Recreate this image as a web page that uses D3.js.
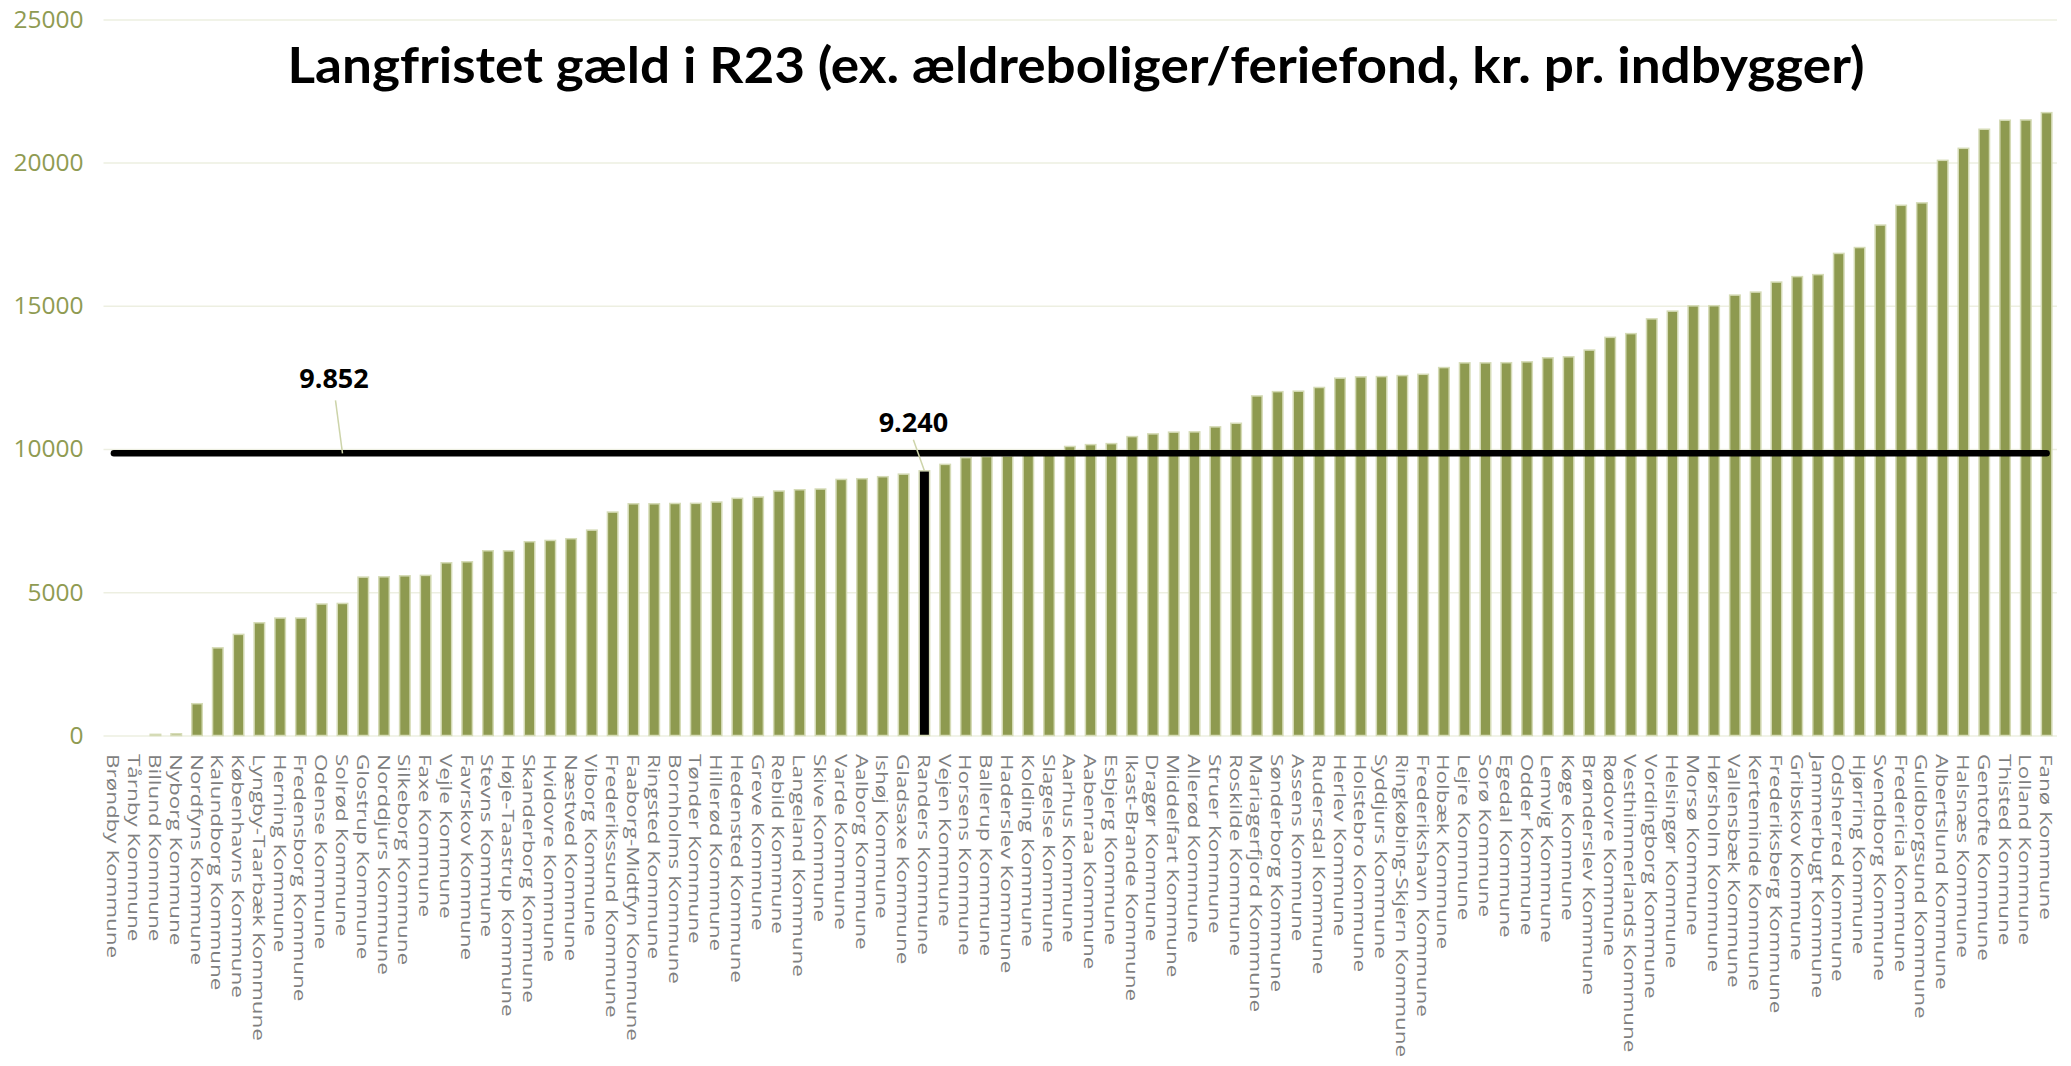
<!DOCTYPE html>
<html><head><meta charset="utf-8">
<script src="https://cdn.jsdelivr.net/npm/d3@7"></script>
<style>body{margin:0;background:#fff} svg{display:block}</style>
</head><body><svg id="c" width="2071" height="1066"></svg>
<script>
const categories = ["Brøndby Kommune","Tårnby Kommune","Billund Kommune","Nyborg Kommune","Nordfyns Kommune","Kalundborg Kommune","Københavns Kommune","Lyngby-Taarbæk Kommune","Herning Kommune","Fredensborg Kommune","Odense Kommune","Solrød Kommune","Glostrup Kommune","Norddjurs Kommune","Silkeborg Kommune","Faxe Kommune","Vejle Kommune","Favrskov Kommune","Stevns Kommune","Høje-Taastrup Kommune","Skanderborg Kommune","Hvidovre Kommune","Næstved Kommune","Viborg Kommune","Frederikssund Kommune","Faaborg-Midtfyn Kommune","Ringsted Kommune","Bornholms Kommune","Tønder Kommune","Hillerød Kommune","Hedensted Kommune","Greve Kommune","Rebild Kommune","Langeland Kommune","Skive Kommune","Varde Kommune","Aalborg Kommune","Ishøj Kommune","Gladsaxe Kommune","Randers Kommune","Vejen Kommune","Horsens Kommune","Ballerup Kommune","Haderslev Kommune","Kolding Kommune","Slagelse Kommune","Aarhus Kommune","Aabenraa Kommune","Esbjerg Kommune","Ikast-Brande Kommune","Dragør Kommune","Middelfart Kommune","Allerød Kommune","Struer Kommune","Roskilde Kommune","Mariagerfjord Kommune","Sønderborg Kommune","Assens Kommune","Rudersdal Kommune","Herlev Kommune","Holstebro Kommune","Syddjurs Kommune","Ringkøbing-Skjern Kommune","Frederikshavn Kommune","Holbæk Kommune","Lejre Kommune","Sorø Kommune","Egedal Kommune","Odder Kommune","Lemvig Kommune","Køge Kommune","Brønderslev Kommune","Rødovre Kommune","Vesthimmerlands Kommune","Vordingborg Kommune","Helsingør Kommune","Morsø Kommune","Hørsholm Kommune","Vallensbæk Kommune","Kerteminde Kommune","Frederiksberg Kommune","Gribskov Kommune","Jammerbugt Kommune","Odsherred Kommune","Hjørring Kommune","Svendborg Kommune","Fredericia Kommune","Guldborgsund Kommune","Albertslund Kommune","Halsnæs Kommune","Gentofte Kommune","Thisted Kommune","Lolland Kommune","Fanø Kommune"];
const values = [0,0,40,60,1110,3060,3530,3935,4100,4100,4590,4610,5530,5540,5575,5590,6030,6065,6450,6445,6765,6810,6870,7170,7800,8090,8090,8100,8105,8150,8280,8325,8535,8580,8605,8940,8965,9035,9125,9240,9465,9700,9740,9760,9790,9830,10090,10155,10190,10435,10530,10590,10600,10775,10900,11855,12005,12020,12150,12475,12520,12530,12565,12610,12845,13010,13010,13015,13045,13185,13220,13455,13900,14030,14545,14815,15000,15005,15375,15480,15830,16020,16090,16830,17035,17820,18510,18595,20080,20500,21165,21480,21490,21745];
const yTicks = [0,5000,10000,15000,20000,25000];
const meanValue = 9852;
const meanLabel = "9.852";
const meanLabelCategory = "Solrød Kommune";
const highlightCategory = "Randers Kommune";
const highlightLabel = "9.240";
const titleText = "Langfristet gæld i R23 (ex. ældreboliger/feriefond, kr. pr. indbygger)";

(function(){
const data = categories.map((c,i)=>({c, v: values[i]}));
const svg = d3.select("#c");
const pLeft = 103.5, pRight = 2057, pBottom = 735.5, pTop = 19.4;
const x = d3.scaleBand().domain(categories).range([pLeft,pRight]).paddingInner(0.495).paddingOuter(0.2475);
const y = d3.scaleLinear().domain([0,25000]).range([pBottom,pTop]);
const bw = x.bandwidth();
const cx = c => x(c) + bw/2;

const olive = "#8E9A50", pale = "#D5DBB6";

// grid + y axis
const ya = svg.append("g").attr("transform",`translate(${pLeft},0)`)
  .call(d3.axisLeft(y).tickValues(yTicks).tickSize(-(pRight-pLeft)).tickPadding(20).tickFormat(d3.format("d")));
ya.select(".domain").remove();
ya.selectAll(".tick line").attr("stroke","#EDEFE1").attr("stroke-width",1.5);
ya.selectAll(".tick text").attr("fill","#8F9B52").style("font-family","'Open Sans'").style("font-size","24.5px");

// bars
svg.append("g").selectAll("rect").data(data).join("rect")
  .attr("x",d=>x(d.c)).attr("width",bw)
  .attr("y",d=>y(d.v)).attr("height",d=>y(0)-y(d.v))
  .attr("fill",d=>d.c===highlightCategory?"#000":olive)
  .attr("stroke",pale).attr("stroke-width",1.5);

// mean line
svg.append("path").datum(categories)
  .attr("d", d3.line().x(c=>cx(c)).y(()=>y(meanValue)))
  .attr("fill","none").attr("stroke","#000").attr("stroke-width",6.5).attr("stroke-linecap","round");

// mean label + leader
const mx = cx(meanLabelCategory), my = y(meanValue);
svg.append("line").attr("x1",mx-7).attr("y1",my-53).attr("x2",mx).attr("y2",my)
  .attr("stroke","#CDD4AA").attr("stroke-width",1.5);
svg.append("text").attr("x",mx-8.5).attr("y",my-65).attr("text-anchor","middle")
  .style("font-family","'Open Sans'").style("font-weight","bold").style("font-size","27px").attr("fill","#000").text(meanLabel);

// highlight label + leader
const hd = data.find(d=>d.c===highlightCategory);
const hx = cx(hd.c), hy = y(hd.v);
svg.append("line").attr("x1",hx).attr("y1",hy).attr("x2",hx-11).attr("y2",hy-31)
  .attr("stroke","#CDD4AA").attr("stroke-width",1.5);
svg.append("text").attr("x",hx-11).attr("y",hy-39).attr("text-anchor","middle")
  .style("font-family","'Open Sans'").style("font-weight","bold").style("font-size","27px").attr("fill","#000").text(highlightLabel);

// x labels (reading top-to-bottom)
svg.append("g").selectAll("text").data(categories).join("text")
  .attr("transform",c=>`translate(${cx(c)-6.5},754) rotate(90) scale(1.32,1)`)
  .attr("text-anchor","start")
  .style("font-family","'Open Sans'").style("font-size","17px").attr("fill","#7F7F7F")
  .text(c=>c);

// title
svg.append("text").attr("x",1076).attr("y",83).attr("text-anchor","middle")
  .attr("textLength",1577).attr("lengthAdjust","spacingAndGlyphs")
  .style("font-family","Lato").style("font-weight","bold").style("font-size","50px").attr("fill","#000")
  .text(titleText);
})();
</script></body></html>
